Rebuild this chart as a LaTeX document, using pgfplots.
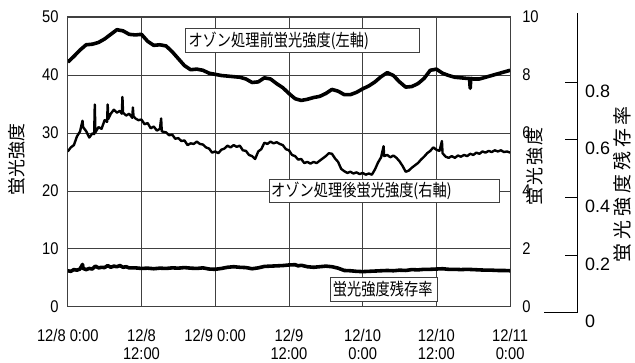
\documentclass[border=0pt]{standalone}
\usepackage{pgfplots}
\pgfplotsset{compat=1.18}
\usepackage{pgfplotstable}
\usepackage{fontspec}
\setmainfont{Liberation Sans}[FakeStretch=0.87]
\newfontfamily\plainsans{Liberation Sans}
\newfontfamily\jpbox{Noto Sans CJK JP}[FakeStretch=0.84]
\newfontfamily\jplab{Noto Sans CJK JP}

% fluorescence intensity before ozone treatment (left axis)
\pgfplotstableread{
h v
0 42.2
1 43.2
2 44.3
3 45.2
4 45.3
5 45.6
6 46.2
7 47.0
8 47.8
9 47.6
10 47.0
11 46.9
12 47.0
13 45.8
14 45.1
15 45.2
16 45.0
17 44.0
18 42.8
19 41.6
20 40.9
21 41.0
22 40.8
23 40.3
24 40.1
25 39.9
26 39.8
27 39.7
28 39.6
29 39.3
30 38.7
31 38.8
32 39.5
33 39.3
34 38.5
35 37.8
36 36.8
37 35.9
38 35.6
39 35.8
40 36.1
41 36.3
42 36.8
43 37.5
44 37.2
45 36.6
46 36.6
47 37.0
48 37.6
49 38.1
50 38.8
51 39.7
52 40.4
53 39.9
54 38.8
55 37.9
56 38.0
57 38.5
58 39.4
59 40.8
60 41.0
61 40.3
62 39.9
63 39.6
64 39.5
65 39.4
65.4 39.4
65.5 37.7
65.6 39.4
66 39.3
67 39.3
68 39.6
69 39.9
70 40.2
71 40.5
72 40.8
}\before

% fluorescence intensity after ozone treatment (right axis)
\pgfplotstableread{
h v
0.0 5.36
0.5 5.50
1.0 5.58
1.5 5.88
2.0 6.05
2.4 6.42
2.5 6.20
3.0 6.06
3.5 5.84
4.0 5.98
4.3 5.96
4.4 6.98
4.5 6.02
5.0 6.20
5.5 6.14
6.0 6.44
6.4 6.38
6.5 6.98
6.6 6.48
7.0 6.66
7.5 6.80
8.0 6.70
8.5 6.76
8.8 6.66
8.9 7.24
9.0 6.70
9.5 6.60
10.0 6.66
10.5 6.52
10.6 6.88
10.7 6.58
11.0 6.50
11.5 6.44
12.0 6.46
12.5 6.30
13.0 6.34
13.5 6.16
14.0 6.22
14.5 6.08
15.0 6.14
15.2 6.50
15.3 6.06
15.5 6.04
16.0 6.02
16.5 5.92
17.0 5.94
17.5 5.80
18.0 5.82
18.5 5.72
19.0 5.74
19.5 5.58
20.0 5.64
20.5 5.62
21.0 5.70
21.5 5.62
22.0 5.60
22.5 5.50
23.0 5.46
23.5 5.32
24.0 5.36
24.5 5.30
25.0 5.42
25.5 5.46
26.0 5.56
26.5 5.50
27.0 5.58
27.5 5.52
28.0 5.56
28.5 5.40
29.0 5.38
29.5 5.24
30.0 5.20
30.5 5.10
31.0 5.36
31.5 5.44
32.0 5.66
32.5 5.62
33.0 5.70
33.5 5.64
34.0 5.68
34.5 5.62
35.0 5.58
35.5 5.44
36.0 5.40
36.5 5.24
37.0 5.20
37.5 5.08
38.0 5.10
38.5 4.96
39.0 5.00
39.5 4.94
40.0 5.00
40.5 4.96
41.0 5.04
41.5 5.12
42.0 5.20
42.5 5.30
43.0 5.28
43.5 5.12
44.0 5.00
44.5 4.76
45.0 4.68
45.5 4.62
46.0 4.66
46.5 4.60
47.0 4.64
47.5 4.58
48.0 4.62
48.5 4.56
49.0 4.60
49.5 4.56
50.0 4.74
50.5 4.98
51.0 5.16
51.4 5.54
51.5 5.20
52.0 5.24
52.5 5.16
53.0 5.22
53.5 5.14
54.0 5.02
54.5 4.86
55.0 4.66
55.5 4.70
56.0 4.80
56.5 4.88
57.0 4.96
57.5 5.08
58.0 5.18
58.5 5.30
59.0 5.38
59.5 5.50
60.0 5.42
60.5 5.38
60.9 5.72
61.0 5.30
61.5 5.18
62.0 5.14
62.5 5.20
63.0 5.14
63.5 5.22
64.0 5.18
64.5 5.24
65.0 5.20
65.5 5.28
66.0 5.24
66.5 5.32
67.0 5.28
67.5 5.36
68.0 5.32
68.5 5.38
69.0 5.34
69.5 5.40
70.0 5.36
70.5 5.40
71.0 5.34
71.5 5.36
72.0 5.32
}\after

% residual ratio of fluorescence intensity (third axis)
\pgfplotstableread{
h v
0 0.146
0.5 0.144
1 0.150
1.5 0.148
2 0.152
2.4 0.168
2.5 0.154
3 0.150
3.5 0.154
4 0.152
4.5 0.162
5 0.156
5.5 0.158
6 0.157
6.5 0.164
7 0.158
7.5 0.162
8 0.160
8.5 0.164
9 0.158
9.5 0.160
10 0.156
11 0.156
12 0.154
13 0.155
14 0.153
15 0.155
16 0.154
17 0.156
18 0.155
19 0.157
20 0.155
21 0.154
22 0.156
23 0.152
24 0.151
25 0.154
26 0.158
27 0.160
28 0.158
29 0.157
30 0.153
31 0.156
32 0.161
33 0.162
34 0.163
35 0.164
36 0.166
37 0.167
37.5 0.163
38 0.165
39 0.160
40 0.158
41 0.160
42 0.162
43 0.160
44 0.155
45 0.147
46 0.146
47 0.144
48 0.143
49 0.144
50 0.145
51 0.146
52 0.147
53 0.146
54 0.148
55 0.147
56 0.150
57 0.149
58 0.151
59 0.151
60 0.152
61 0.153
62 0.151
63 0.151
64 0.150
65 0.151
66 0.150
67 0.149
68 0.148
69 0.148
70 0.147
71 0.147
72 0.146
}\ratio

\pgfplotsset{
  tl/.style={font=\fontsize{17}{18}\selectfont},
  main/.style={scale only axis, width=444pt, height=291pt, xmin=0, xmax=72,
    at={(68pt,56pt)}, anchor=south west,
    /pgf/number format/assume math mode=true},
}

\begin{document}
\begin{tikzpicture}[x=1pt,y=1pt]
\path (0,0) rectangle (635,364);

% left axis with grid
\begin{axis}[main, ymin=0, ymax=50,
  xtick={0,12,...,72},
  xticklabels={{12/8 0:00},{12/8\\12:00},{12/9 0:00},{12/9\\12:00},{12/10\\0:00},{12/10\\12:00},{12/11\\0:00}},
  ytick={0,10,...,50},
  grid=major, major grid style={black!75, line width=0.8pt},
  axis line style={black!75, line width=0.9pt},
  major tick length=0pt,
  ticklabel style={tl},
  xticklabel style={align=center, anchor=north, inner sep=0pt, yshift=-22pt},
  yticklabel style={anchor=east, inner sep=0pt, xshift=-9pt}]
\addplot[black, line width=3.6pt, line join=round] table[x=h, y=v] {\before};
\end{axis}

% right axis
\begin{axis}[main, ymin=0, ymax=10, axis x line=none, axis y line*=right,
  y axis line style={draw=none}, major tick length=0pt,
  ytick={0,2,...,10}, ticklabel style={tl},
  yticklabel style={anchor=west, inner sep=0pt, xshift=12pt}]
\addplot[black, line width=2.4pt, line join=round] table[x=h, y=v] {\after};
\end{axis}

% residual ratio series
\begin{axis}[scale only axis, width=444pt, height=301pt, at={(68pt,50pt)},
  anchor=south west, xmin=0, xmax=72, ymin=0, ymax=1.04, hide axis]
\addplot[black, line width=3.6pt, line join=round] table[x=h, y=v] {\ratio};
\end{axis}

% third axis scale
\begin{axis}[scale only axis, width=34pt, height=301pt, at={(546pt,50pt)},
  anchor=south west, xmin=0, xmax=1, ymin=0, ymax=1.04,
  axis x line*=bottom, axis y line*=right, xtick=\empty,
  ytick={0,0.2,...,0.8}, ytick align=inside, major tick length=13pt,
  axis line style={black, line width=0.9pt}, tick style={black, line width=0.9pt},
  /pgf/number format/assume math mode=true,
  /pgf/number format/fixed,
  yticklabel style={font=\plainsans\fontsize{18}{20}\selectfont, anchor=west, inner sep=0pt, xshift=7pt, yshift=-9pt}]
\end{axis}

% axis titles
\node[rotate=90, font=\jplab\fontsize{18}{18}\selectfont] at (17,204) {蛍光強度};
\node[rotate=90, font=\jplab\fontsize{18}{18}\selectfont] at (537,197) {蛍\kern2pt 光\kern2pt 強\kern2pt 度};
\node[rotate=90, font=\jplab\fontsize{19}{19}\selectfont] at (625,179) {蛍\kern4pt 光\kern4pt 強\kern4pt 度\kern4pt 残\kern4pt 存\kern4pt 率};

% series captions
\draw[black!75, line width=0.8pt, fill=white] (186,311) rectangle (421,335);
\node[anchor=west, inner sep=0pt, font=\jpbox\fontsize{17}{17}\selectfont] at (189,323) {オゾン処理前蛍光強度(左軸)};
\draw[black!75, line width=0.8pt, fill=white] (270,161) rectangle (501,184);
\node[anchor=west, inner sep=0pt, font=\jpbox\fontsize{17}{17}\selectfont] at (272,172.5) {オゾン処理後蛍光強度(右軸)};
\draw[black!75, line width=0.8pt, fill=white] (332,62) rectangle (439,86);
\node[anchor=west, inner sep=0pt, font=\jpbox\fontsize{17}{17}\selectfont] at (334,74) {蛍光強度残存率};
\end{tikzpicture}
\end{document}
